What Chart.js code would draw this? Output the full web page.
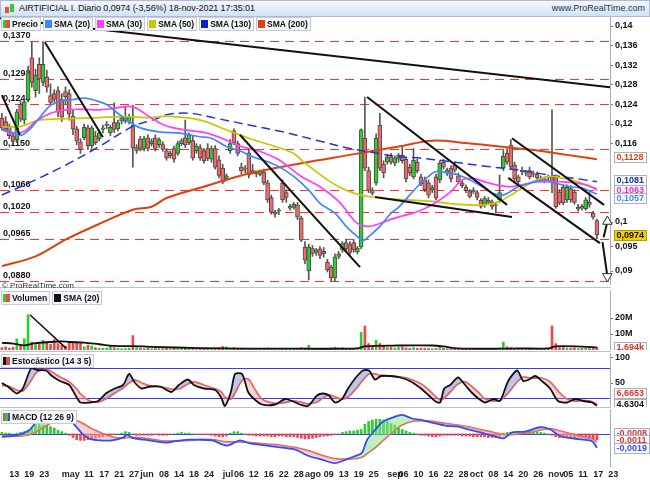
<!DOCTYPE html>
<html>
<head>
<meta charset="utf-8">
<title>AIRTIFICIAL I. Diario</title>
<script src="https://cdn.jsdelivr.net/npm/chart.js@4.4.1/dist/chart.umd.min.js"></script>
<style>
  html, body { margin: 0; padding: 0; background: #fff; }
  body { position: relative; width: 650px; height: 483px; overflow: hidden; font-family: "Liberation Sans", Arial, sans-serif; }
  canvas { position: absolute; left: 0; }
  .titlebar { position: absolute; left: 0; top: 0; width: 648px; height: 15px; border: 1px solid #a9bcd3; background: linear-gradient(#f4f8fd, #d2e1f2); font-size: 9px; color: #111; }
  .titlebar .t { position: absolute; left: 18px; top: 2px; white-space: nowrap; letter-spacing: -0.1px; }
  .titlebar .site { position: absolute; right: 4px; top: 2px; color: #24344f; }
  .titlebar .ico { position: absolute; left: 4px; top: 3px; width: 10px; height: 10px; }
  .ico b { position: absolute; width: 4px; }
  .legend { position: absolute; left: 1px; display: flex; gap: 2px; font-size: 8.5px; font-weight: bold; color: #111; white-space: nowrap; }
  .legend span { display: inline-flex; align-items: center; height: 12px; padding: 0 2px 0 1px; background: #f5f7fa; border: 1px solid #c3ccd8; }
  .legend i { display: inline-block; width: 7px; height: 8px; margin-right: 2px; }
  .sep { position: absolute; left: 0; width: 611px; height: 1px; background: #b9c2cf; }
  .copy { position: absolute; left: 2px; top: 281px; font-size: 8px; color: #333; }
</style>
</head>
<body>
<div class="titlebar">
  <div class="ico"><b style="left:0;top:3px;height:6px;background:#e84a4a"></b><b style="left:5px;top:0;height:8px;background:#2fcc2f"></b></div>
  <div class="t">AIRTIFICIAL I. Diario 0,0974 (-3,56%) 18-nov-2021 17:35:01</div>
  <div class="site">www.ProRealTime.com</div>
</div>

<canvas id="price" width="650" height="268" style="top:17px"></canvas>
<canvas id="vol" width="650" height="60" style="top:290px"></canvas>
<canvas id="sto" width="650" height="54" style="top:353px"></canvas>
<canvas id="macd" width="650" height="74" style="top:409px"></canvas>

<div class="sep" style="top:287px"></div>
<div class="sep" style="top:351px"></div>
<div class="sep" style="top:407px"></div>

<div class="legend" style="top:17px">
  <span><i style="background:linear-gradient(90deg,#2fcc2f 50%,#e84a4a 50%)"></i>Precio</span>
  <span><i style="background:#3f86ff"></i>SMA (20)</span>
  <span><i style="background:#ff3cff"></i>SMA (30)</span>
  <span><i style="background:#c8c800"></i>SMA (50)</span>
  <span><i style="background:#1020c8"></i>SMA (130)</span>
  <span><i style="background:#e0400f"></i>SMA (200)</span>
</div>
<div class="copy">© ProRealTime.com</div>
<div class="legend" style="top:291px">
  <span><i style="background:linear-gradient(90deg,#2fcc2f 50%,#e84a4a 50%)"></i>Volumen</span>
  <span><i style="background:#111"></i>SMA (20)</span>
</div>
<div class="legend" style="top:354px">
  <span><i style="background:linear-gradient(90deg,#111 50%,#e84a4a 50%)"></i>Estocástico (14 3 5)</span>
</div>
<div class="legend" style="top:410px">
  <span><i style="background:linear-gradient(90deg,#e84a4a 33%,#2fcc2f 33%,#2fcc2f 66%,#3050ff 66%)"></i>MACD (12 26 9)</span>
</div>

<script>
const FONT = '"Liberation Sans", Arial, sans-serif';

// bottom axis labels: [trading day index, text]; day 0 = 9-abr-2021
const dayTicks = [
  [2, '13'], [6, '19'], [10, '23'], [16, 'may'], [22, '11'], [26, '17'], [30, '21'], [34, '27'], [37, 'jun'],
  [42, '08'], [46, '14'], [50, '18'], [54, '24'], [59, 'jul'], [62, '06'], [66, '12'], [70, '16'], [74, '22'],
  [78, '28'], [81, 'ago'], [86, '09'], [90, '13'], [94, '19'], [98, '25'], [103, 'sep'], [106, '06'], [110, '10'],
  [114, '16'], [118, '22'], [122, '28'], [125, 'oct'], [130, '08'], [134, '14'], [138, '20'], [142, '26'],
  [146, 'nov'], [150, '05'], [154, '11'], [158, '17'], [162, '23']
];

// daily candles [open, high, low, close]
const ohlc = [
  [0.1212,0.1222,0.1188,0.1192],[0.1205,0.1215,0.1185,0.1190],[0.1196,0.1200,0.1170,0.1176],[0.1176,0.1182,0.1158,0.1165],[0.1168,0.1230,0.1162,0.1225],
  [0.1240,0.1248,0.1205,0.1210],[0.1208,0.1250,0.1200,0.1245],[0.1250,0.1318,0.1245,0.1305],[0.1335,0.1368,0.1275,0.1285],[0.1268,0.1312,0.1255,0.1300],
  [0.1322,0.1335,0.1262,0.1292],[0.1285,0.1368,0.1278,0.1322],[0.1296,0.1310,0.1265,0.1275],[0.1258,0.1282,0.1240,0.1244],[0.1262,0.1270,0.1245,0.1250],
  [0.1268,0.1276,0.1215,0.1224],[0.1250,0.1262,0.1205,0.1214],[0.1266,0.1276,0.1240,0.1256],[0.1262,0.1270,0.1208,0.1220],[0.1216,0.1230,0.1178,0.1190],
  [0.1190,0.1195,0.1158,0.1165],[0.1163,0.1170,0.1140,0.1148],[0.1172,0.1200,0.1168,0.1193],[0.1192,0.1198,0.1148,0.1156],[0.1156,0.1196,0.1150,0.1192],
  [0.1176,0.1185,0.1158,0.1162],[0.1170,0.1188,0.1165,0.1182],[0.1189,0.1198,0.1182,0.1192],[0.1197,0.1205,0.1190,0.1200],[0.1182,0.1198,0.1176,0.1193],
  [0.1203,0.1243,0.1183,0.1189],[0.1190,0.1208,0.1186,0.1203],[0.1206,0.1216,0.1200,0.1212],[0.1206,0.1235,0.1202,0.1213],[0.1205,0.1220,0.1200,0.1214],
  [0.1198,0.1238,0.1112,0.1151],[0.1146,0.1158,0.1140,0.1152],[0.1169,0.1175,0.1145,0.1150],[0.1150,0.1175,0.1145,0.1170],[0.1172,0.1178,0.1145,0.1150],
  [0.1160,0.1170,0.1155,0.1165],[0.1172,0.1178,0.1145,0.1150],[0.1158,0.1172,0.1152,0.1168],[0.1158,0.1164,0.1144,0.1148],[0.1145,0.1150,0.1126,0.1131],
  [0.1135,0.1145,0.1130,0.1140],[0.1150,0.1155,0.1122,0.1128],[0.1140,0.1165,0.1136,0.1160],[0.1160,0.1170,0.1156,0.1166],[0.1172,0.1208,0.1152,0.1158],
  [0.1162,0.1182,0.1158,0.1178],[0.1166,0.1175,0.1126,0.1131],[0.1145,0.1160,0.1140,0.1155],[0.1152,0.1158,0.1126,0.1131],[0.1145,0.1150,0.1120,0.1125],
  [0.1150,0.1160,0.1125,0.1130],[0.1128,0.1155,0.1122,0.1150],[0.1150,0.1156,0.1108,0.1112],[0.1127,0.1135,0.1090,0.1095],[0.1110,0.1118,0.1078,0.1082],
  [0.1088,0.1098,0.1084,0.1094],[0.1145,0.1168,0.1140,0.1160],[0.1186,0.1190,0.1158,0.1162],[0.1160,0.1165,0.1135,0.1140],[0.1112,0.1120,0.1098,0.1104],
  [0.1108,0.1115,0.1100,0.1110],[0.1141,0.1150,0.1090,0.1096],[0.1105,0.1118,0.1098,0.1102],[0.1098,0.1104,0.1092,0.1100],[0.1097,0.1106,0.1094,0.1103],
  [0.1102,0.1108,0.1076,0.1080],[0.1080,0.1085,0.1040,0.1045],[0.1050,0.1055,0.1016,0.1020],[0.1016,0.1024,0.1010,0.1020],[0.1022,0.1028,0.1015,0.1025],
  [0.1080,0.1086,0.1040,0.1045],[0.1060,0.1066,0.1040,0.1050],[0.1028,0.1036,0.1024,0.1032],[0.1030,0.1040,0.1026,0.1036],[0.1035,0.1040,0.1005,0.1010],
  [0.1008,0.1012,0.0960,0.0963],[0.0949,0.0960,0.0915,0.0922],[0.0900,0.0955,0.0882,0.0949],[0.0946,0.0952,0.0930,0.0936],[0.0938,0.0946,0.0932,0.0943],
  [0.0945,0.0950,0.0925,0.0932],[0.0940,0.0948,0.0928,0.0935],[0.0918,0.0924,0.0898,0.0902],[0.0908,0.0912,0.0880,0.0886],[0.0886,0.0935,0.0880,0.0929],
  [0.0930,0.0940,0.0925,0.0935],[0.0943,0.0960,0.0938,0.0956],[0.0958,0.0965,0.0940,0.0945],[0.0954,0.0960,0.0932,0.0938],[0.0958,0.0964,0.0938,0.0943],
  [0.0939,0.0950,0.0935,0.0947],[0.0949,0.1190,0.0945,0.1188],[0.1171,0.1255,0.1105,0.1110],[0.1105,0.1112,0.1060,0.1065],[0.1065,0.1070,0.1055,0.1059],
  [0.1080,0.1180,0.1075,0.1171],[0.1198,0.1222,0.1105,0.1110],[0.1118,0.1125,0.1090,0.1100],[0.1122,0.1138,0.1118,0.1133],[0.1133,0.1140,0.1118,0.1122],
  [0.1120,0.1135,0.1115,0.1131],[0.1128,0.1140,0.1122,0.1136],[0.1136,0.1153,0.1120,0.1125],[0.1128,0.1132,0.1082,0.1088],[0.1112,0.1118,0.1095,0.1100],
  [0.1092,0.1150,0.1088,0.1126],[0.1122,0.1128,0.1100,0.1105],[0.1092,0.1098,0.1074,0.1078],[0.1086,0.1092,0.1062,0.1066],[0.1080,0.1086,0.1049,0.1055],
  [0.1065,0.1075,0.1060,0.1070],[0.1092,0.1098,0.1045,0.1049],[0.1086,0.1125,0.1080,0.1120],[0.1122,0.1128,0.1108,0.1112],[0.1100,0.1110,0.1095,0.1106],
  [0.1110,0.1115,0.1082,0.1088],[0.1116,0.1122,0.1102,0.1106],[0.1094,0.1100,0.1078,0.1082],[0.1080,0.1085,0.1070,0.1074],[0.1071,0.1076,0.1060,0.1064],
  [0.1062,0.1066,0.1049,0.1052],[0.1065,0.1070,0.1058,0.1062],[0.1060,0.1064,0.1045,0.1050],[0.1044,0.1048,0.1028,0.1032],[0.1036,0.1052,0.1030,0.1048],
  [0.1044,0.1050,0.1036,0.1040],[0.1041,0.1045,0.1026,0.1032],[0.1035,0.1040,0.1020,0.1034],[0.1045,0.1096,0.1040,0.1060],[0.1110,0.1146,0.1105,0.1134],
  [0.1140,0.1150,0.1118,0.1122],[0.1157,0.1168,0.1108,0.1112],[0.1116,0.1122,0.1084,0.1088],[0.1092,0.1096,0.1078,0.1082],[0.1106,0.1112,0.1096,0.1102],
  [0.1100,0.1105,0.1094,0.1101],[0.1105,0.1112,0.1088,0.1092],[0.1098,0.1104,0.1092,0.1100],[0.1098,0.1102,0.1086,0.1090],[0.1090,0.1094,0.1084,0.1088],
  [0.1082,0.1092,0.1080,0.1088],[0.1092,0.1096,0.1084,0.1090],[0.1092,0.1229,0.1060,0.1082],[0.1092,0.1096,0.1028,0.1031],[0.1061,0.1066,0.1035,0.1039],
  [0.1071,0.1076,0.1035,0.1039],[0.1045,0.1076,0.1040,0.1071],[0.1068,0.1074,0.1040,0.1045],[0.1061,0.1066,0.1036,0.1040],[0.1026,0.1036,0.1022,0.1030],
  [0.1032,0.1036,0.1024,0.1028],[0.1027,0.1050,0.1024,0.1045],[0.1040,0.1060,0.1030,0.1036],[0.1018,0.1022,0.1006,0.1010],[0.1003,0.1006,0.0966,0.0974]
];

// moving averages: [day index, value]
const sma20 = [[0,0.1190],[3,0.1182],[5,0.1177],[7,0.1186],[10,0.1212],[13,0.1238],[16,0.1247],[19,0.1250],[22,0.1253],[25,0.1248],[28,0.1240],[31,0.1222],[34,0.1205],[37,0.1192],[42,0.1184],[48,0.1181],[53,0.1174],[56,0.1171],[60,0.1154],[64,0.1144],[67,0.1133],[71,0.1123],[74,0.1113],[78,0.1093],[82,0.1065],[85,0.1038],[89,0.1018],[92,0.0991],[95,0.0970],[96.5,0.0962],[98,0.0970],[101,0.0991],[104,0.1018],[106,0.1030],[111,0.1072],[114,0.1093],[116,0.1103],[120,0.1099],[122,0.1096],[125,0.1086],[129,0.1069],[131,0.1059],[134,0.1055],[138,0.1072],[141,0.1079],[145,0.1086],[148,0.1079],[152,0.1072],[155,0.1069],[159,0.1057]];
const sma30 = [[0,0.1188],[3,0.1181],[6,0.1185],[9,0.1205],[13,0.1222],[17,0.1229],[22,0.1230],[26,0.1229],[30,0.1232],[34,0.1236],[36,0.1232],[40,0.1212],[44,0.1196],[49,0.1188],[55,0.1181],[60,0.1167],[64,0.1154],[69,0.1144],[74,0.1127],[80,0.1093],[85,0.1072],[90,0.1042],[95,0.0997],[98,0.0991],[101,0.0997],[105,0.1008],[111,0.1021],[115,0.1035],[120,0.1062],[123,0.1086],[126,0.1089],[129,0.1082],[132,0.1076],[136,0.1072],[139,0.1076],[143,0.1082],[147,0.1082],[150,0.1082],[154,0.1079],[157,0.1074],[159,0.1065]];
const sma50 = [[0,0.1194],[5,0.1195],[10,0.1208],[17,0.1211],[26,0.1213],[32,0.1215],[40,0.1213],[44,0.1216],[53,0.1208],[60,0.1188],[66,0.1171],[73,0.1154],[78,0.1140],[81,0.1120],[87,0.1086],[90,0.1072],[94,0.1059],[98,0.1052],[102,0.1048],[106,0.1046],[115,0.1042],[122,0.1036],[129,0.1035],[133,0.1042],[136,0.1055],[139,0.1069],[143,0.1086],[147,0.1093],[150,0.1089],[154,0.1082],[157,0.1072],[159,0.1069]];
const sma130 = [[0,0.1055],[9,0.1086],[17,0.1116],[26,0.1154],[35,0.1195],[41,0.1210],[44,0.1219],[50,0.1222],[57,0.1212],[66,0.1198],[75,0.1184],[84,0.1167],[93,0.1150],[100,0.1141],[106,0.1133],[111,0.1131],[120,0.1123],[129,0.1114],[138,0.1106],[146,0.1096],[155,0.1087],[159,0.1082]];
const sma200 = [[0,0.0910],[9,0.0930],[17,0.0964],[26,0.0996],[35,0.1025],[40,0.1031],[44,0.1049],[53,0.1070],[66,0.1099],[80,0.1120],[93,0.1137],[106,0.1154],[115,0.1166],[124,0.1161],[133,0.1154],[142,0.1147],[151,0.1137],[159,0.1128]];

const levels = [0.1370, 0.1292, 0.1240, 0.1150, 0.1066, 0.1020, 0.0965, 0.0880];
const priceTicks = [0.14, 0.136, 0.132, 0.128, 0.124, 0.12, 0.116, 0.1, 0.095, 0.09];

// hand-drawn lines [day0, price0, day1, price1]
const trendLines = [
  [-0.5, 0.14159, 162.5, 0.12749],
  [0.0, 0.1259, 4.8, 0.1178],
  [11.5, 0.1367, 27.0, 0.1173],
  [63.6, 0.1178, 95.7, 0.0908],
  [97.6, 0.1255, 135.0, 0.1035],
  [99.7, 0.1051, 136.3, 0.1010],
  [136.3, 0.1171, 160.9, 0.1035],
  [135.3, 0.1090, 159.8, 0.0957]
];
const arrows = [[160.8, 0.0969, 161.8, 0.1001], [160.5, 0.0959, 161.8, 0.0889]];

// volume in millions
const volume = [
  1.5, 2.0, 1.2, 1.8, 7.0, 2.5, 7.0, 22.0, 5.0, 4.0,
  3.5, 6.0, 5.0, 3.5, 6.5, 4.0, 3.0, 2.5, 4.5, 5.0,
  4.5, 4.0, 2.0, 3.0, 2.5, 1.5, 1.2, 1.0, 1.2, 2.5,
  1.5, 1.0, 0.8, 1.0, 1.2, 9.0, 1.5, 1.2, 1.0, 1.3,
  0.8, 1.0, 0.9, 0.8, 1.0, 0.8, 1.0, 0.7, 0.9, 1.0,
  0.8, 1.2, 0.7, 0.9, 0.8, 0.7, 0.8, 1.0, 1.5, 2.2,
  2.0, 1.0, 1.3, 0.8, 0.7, 0.6, 0.8, 0.6, 0.7, 0.8,
  0.7, 1.2, 1.0, 0.6, 0.7, 0.8, 0.9, 0.7, 0.8, 1.0,
  1.5, 1.2, 3.0, 1.0, 0.8, 0.9, 0.7, 1.0, 1.3, 1.8,
  1.2, 1.5, 1.0, 0.9, 1.0, 0.8, 11.0, 15.0, 4.0, 2.0,
  6.0, 4.0, 2.5, 1.5, 1.8, 1.2, 1.5, 1.8, 1.3, 1.0,
  1.5, 1.0, 1.2, 1.0, 0.9, 0.8, 1.0, 2.5, 1.2, 0.9,
  0.8, 0.7, 0.9, 0.6, 0.8, 0.7, 0.6, 0.7, 0.9, 0.8,
  0.7, 0.6, 0.8, 1.2, 5.0, 2.0, 1.5, 1.0, 0.9, 0.8,
  0.7, 0.8, 0.6, 0.7, 0.8, 0.9, 0.7, 15.0, 4.0, 1.5,
  1.8, 1.2, 1.0, 1.3, 0.9, 1.0, 1.1, 0.9, 1.0, 1.694
];
const volSma20 = [[0,4.5],[3,4.0],[6,2.9],[9,4.3],[13,5.0],[16,5.4],[18,5.0],[22,4.6],[26,3.6],[30,2.6],[35,2.4],[40,2.0],[53,1.2],[66,0.9],[80,0.8],[95,1.0],[97,2.3],[106,2.8],[115,2.8],[118,2.2],[122,1.0],[133,0.8],[138,1.0],[146,1.0],[148,2.3],[155,2.1],[159,1.7]];
const volTrend = [[7.5, 22.0, 17.2, 1.0]];

// stochastic (14 3 5)
const stoIdx = [0,1.6,4,5.6,7.8,9.4,11.8,13.4,15.5,18,20,21,23.5,25.7,27.8,30.2,32.4,34,35.6,37.4,39.6,42.3,45.2,47.3,49.7,51.3,54,57,58.6,59.6,61.2,62.3,64.2,65.8,67.4,69.5,73,75.7,77.5,79.7,81.8,84.2,85.8,87.4,89,90.9,92.5,94.6,96.5,98.1,99.7,101.3,103.7,106.4,109,112,114.1,115.7,117.1,118.2,119.8,121.9,123.8,125.4,127.5,129.1,131.5,133.1,135.3,137.7,139.3,140.9,142.5,144.3,146.5,148.6,151,153.2,155.3,157.7,159];
const stoK = [50,43,29,39,79,76,75,64,54,46,21,11,11,14,29,39,46,68,50,39,43,43,32,46,57,46,39,36,21,4,32,68,68,32,18,7,7,18,14,7,4,25,29,25,11,18,39,61,75,75,57,64,64,61,54,39,25,14,11,39,46,61,46,32,18,11,18,14,54,75,54,57,64,54,39,14,11,18,14,11,4.6304];
const stoD = [45,44,36,34,55,72,77,72,62,52,38,28,14,12,18,30,40,50,56,50,44,42,38,38,48,52,46,38,32,22,18,30,55,58,40,18,9,11,14,12,8,12,20,26,22,18,22,38,56,68,68,65,64,62,58,48,36,24,16,20,32,48,52,44,30,18,14,15,30,52,62,60,60,60,52,34,18,14,15,13,6.6653];

// MACD (12 26 9)
const macdIdx = [0,2.7,4.6,7.3,9.4,11.8,13.9,17.4,19.5,21.7,23.6,26.2,29.4,32.4,33.4,35,38,40.7,43.6,46.3,49.7,53,56.2,60.2,63.6,66.3,70.9,75.1,78.6,81.8,85.3,89,92,94.1,96.2,97.6,99.7,101.9,104.8,106.9,109.6,112,115.2,118.7,121.9,125.4,128.6,132.1,134.2,136.3,139.8,143.8,146.5,149.2,152.1,155.3,157.7,159];
const macdLine = [-0.0004,-0.0003,-0.0001,0.0005,0.0017,0.0023,0.0026,0.0022,0.0012,-0.0001,-0.0007,-0.0009,-0.0009,-0.0005,-0.0001,-0.0006,-0.0008,-0.0010,-0.0012,-0.0010,-0.0008,-0.0008,-0.0009,-0.0016,-0.0009,-0.0013,-0.0016,-0.0019,-0.0022,-0.0030,-0.0035,-0.0040,-0.0035,-0.0031,-0.0026,-0.0008,0.0005,0.0017,0.0023,0.0026,0.0021,0.0019,0.0015,0.0011,0.0010,0.0005,0.0001,-0.0004,-0.0006,0.0002,0.0003,0.0009,0.0006,-0.0003,-0.0006,-0.0008,-0.0010,-0.0019];
const macdSignal = [-0.0002,-0.0003,-0.0003,-0.0001,0.0004,0.0011,0.0017,0.0021,0.0019,0.0014,0.0008,0.0002,-0.0004,-0.0006,-0.0005,-0.0005,-0.0006,-0.0008,-0.0010,-0.0010,-0.0009,-0.0008,-0.0008,-0.0011,-0.0011,-0.0012,-0.0014,-0.0016,-0.0019,-0.0023,-0.0029,-0.0034,-0.0035,-0.0034,-0.0032,-0.0027,-0.0019,-0.0009,0.0004,0.0012,0.0017,0.0018,0.0017,0.0014,0.0012,0.0009,0.0005,0.0001,-0.0001,-0.0001,0.0001,0.0005,0.0007,0.0004,0.0000,-0.0004,-0.0007,-0.0011];
const macdHist = [
  0.0002, 0.0001, 0.0001, 0.0000, 0.0001, 0.0002, 0.0003, 0.0005, 0.0009, 0.0012,
  0.0013, 0.0012, 0.0011, 0.0010, 0.0008, 0.0005, 0.0003, 0.0001, -0.0002, -0.0005,
  -0.0008, -0.0009, -0.0009, -0.0008, -0.0007, -0.0006, -0.0005, -0.0004, -0.0003, -0.0002,
  -0.0001, 0.0000, 0.0001, 0.0003, 0.0002, -0.0001, -0.0002, -0.0002, -0.0002, -0.0002,
  -0.0002, -0.0001, -0.0002, -0.0002, -0.0002, -0.0001, 0.0000, 0.0001, 0.0002, 0.0001,
  0.0001, 0.0000, -0.0001, -0.0001, -0.0001, -0.0001, -0.0002, -0.0003, -0.0004, -0.0004,
  -0.0003, 0.0001, 0.0003, 0.0003, 0.0001, -0.0001, -0.0002, -0.0002, -0.0003, -0.0003,
  -0.0003, -0.0003, -0.0004, -0.0004, -0.0003, -0.0003, -0.0004, -0.0004, -0.0004, -0.0005,
  -0.0006, -0.0007, -0.0007, -0.0006, -0.0005, -0.0004, -0.0003, -0.0003, -0.0002, -0.0001,
  0.0000, 0.0002, 0.0003, 0.0004, 0.0004, 0.0005, 0.0006, 0.0013, 0.0017, 0.0019,
  0.0020, 0.0020, 0.0019, 0.0017, 0.0014, 0.0012, 0.0009, 0.0006, 0.0004, 0.0002,
  0.0001, -0.0001, -0.0002, -0.0002, -0.0003, -0.0004, -0.0004, -0.0003, -0.0002, -0.0002,
  -0.0002, -0.0002, -0.0002, -0.0003, -0.0003, -0.0003, -0.0004, -0.0004, -0.0004, -0.0004,
  -0.0005, -0.0005, -0.0005, -0.0003, 0.0001, 0.0002, 0.0002, 0.0002, 0.0002, 0.0003,
  0.0003, 0.0003, 0.0003, 0.0003, 0.0002, 0.0001, 0.0000, -0.0002, -0.0004, -0.0005,
  -0.0005, -0.0005, -0.0005, -0.0005, -0.0005, -0.0005, -0.0006, -0.0006, -0.0007, -0.0008
];

// ---- helpers ----
const UP = '#2fcc2f', DOWN = '#ee6a6a', VDOWN = '#ee4848';
const isUp = ohlc.map(c => c[3] >= c[0]);
const pairs = arr => arr.map(([x, y]) => ({ x, y }));
const zip = (xs, ys) => xs.map((x, k) => ({ x, y: ys[k] }));
const comma = v => String(v).replace('.', ',');
const segment = (t, color, width) => ({
  type: 'line', data: [{ x: t[0], y: t[1] }, { x: t[2], y: t[3] }],
  borderColor: color, borderWidth: width, pointRadius: 0, tension: 0, order: 0
});
const line = (data, color, extra) => Object.assign({
  type: 'line', data, borderColor: color, borderWidth: 1.7, pointRadius: 0, tension: 0.35, order: 2
}, extra || {});

function xAxis(show) {
  return {
    type: 'linear', min: -0.5, max: 162.5, offset: false, display: show,
    afterBuildTicks: s => { s.ticks = dayTicks.map(t => ({ value: t[0] })); },
    afterFit: s => { s.height = show ? 17 : 0; s.paddingLeft = 0; s.paddingRight = 0; s.paddingTop = 0; s.paddingBottom = 0; },
    grid: { display: false, drawTicks: false }, border: { display: false },
    ticks: { autoSkip: false, maxRotation: 0, align: 'start', padding: 3, color: '#222',
      font: { family: FONT, size: 9, weight: 'bold' }, callback: (v, i) => dayTicks[i] ? dayTicks[i][1] : '' }
  };
}
function yAxis(min, max, ticks, fmt) {
  return {
    position: 'right', min, max,
    afterBuildTicks: s => { s.ticks = ticks.map(v => ({ value: v })); },
    afterFit: s => { s.width = 40; s.paddingTop = 0; s.paddingBottom = 0; },
    grid: { drawOnChartArea: false, drawTicks: true, tickLength: 3, color: '#777' },
    border: { display: true, color: '#a6afbb' },
    ticks: { display: ticks.length > 0, padding: 2, color: '#111', font: { family: FONT, size: 9, weight: 'bold' }, callback: fmt }
  };
}
const guides = lines => ({
  id: 'guides',
  beforeDatasetsDraw(chart) {
    const { ctx, chartArea: a, scales: { y } } = chart;
    ctx.save();
    lines.forEach(g => {
      const py = Math.round(y.getPixelForValue(g.v)) + 0.5;
      ctx.strokeStyle = g.color; ctx.lineWidth = 1; ctx.setLineDash(g.dash || []);
      ctx.beginPath(); ctx.moveTo(a.left, py); ctx.lineTo(a.right, py); ctx.stroke();
      if (g.label) {
        ctx.setLineDash([]); ctx.fillStyle = '#111'; ctx.font = 'bold 9px ' + FONT; ctx.textBaseline = 'bottom';
        ctx.fillText(g.label, a.left + 3, py - 1.5);
      }
    });
    ctx.restore();
  }
});
const tags = items => ({
  id: 'tags',
  afterDraw(chart) {
    const { ctx, chartArea: a, scales: { y } } = chart;
    ctx.save(); ctx.font = 'bold 9px ' + FONT; ctx.textBaseline = 'middle';
    items.forEach(t => {
      const py = Math.round(y.getPixelForValue(t.v) + (t.dy || 0));
      const w = Math.ceil(ctx.measureText(t.text).width) + 5, x = a.right + 4;
      ctx.fillStyle = t.bg || '#fff'; ctx.fillRect(x, py - 5, w, 11);
      ctx.strokeStyle = t.edge || '#a9b3bf'; ctx.lineWidth = 1; ctx.strokeRect(x + 0.5, py - 4.5, w - 1, 10);
      ctx.fillStyle = t.color; ctx.fillText(t.text, x + 2.5, py + 0.5);
    });
    ctx.restore();
  }
});
function panel(id, datasets, y, showX, plugins) {
  return new Chart(document.getElementById(id), {
    type: 'bar',
    data: { datasets },
    options: {
      responsive: false, animation: false, events: [],
      layout: { padding: 0, autoPadding: false },
      plugins: { legend: { display: false }, tooltip: { enabled: false } },
      scales: { x: xAxis(showX), y }
    },
    plugins
  });
}

// ---- price ----
const PMIN = 0.087143, PMAX = 0.141837;
panel('price', [
  ...trendLines.map(t => segment(t, '#111', 2)),
  ...arrows.map((t, k) => Object.assign(segment(t, '#111', 2), {
    clip: false, pointStyle: 'triangle', rotation: k ? 180 : 0,
    pointRadius: [0, 5.5], pointBackgroundColor: '#fff', pointBorderColor: '#333', pointBorderWidth: 1
  })),
  line(pairs(sma20), '#3f86ff'),
  line(pairs(sma30), '#ff3cff'),
  line(pairs(sma50), '#c8c800'),
  line(pairs(sma130), '#2233dd', { borderDash: [9, 5], borderWidth: 1.5 }),
  line(pairs(sma200), '#e0400f', { borderWidth: 2 }),
  { type: 'bar', data: ohlc.map((c, i) => ({ x: i, y: [c[0], c[3]] })), grouped: false, barThickness: 4,
    backgroundColor: isUp.map(u => u ? UP : DOWN), borderColor: '#4a4a4a', borderWidth: 1, borderSkipped: false, order: 9 },
  { type: 'bar', data: ohlc.map((c, i) => ({ x: i, y: [c[2], c[1]] })), grouped: false, barThickness: 1,
    backgroundColor: '#555', order: 10 }
], yAxis(PMIN, PMAX, priceTicks, comma), false, [
  guides(levels.map(v => ({ v, color: '#ff3030', dash: [9, 6], label: v.toFixed(4).replace('.', ',') }))),
  tags([
    { v: 0.1128, text: '0,1128', color: '#e0400f', dy: -2 },
    { v: 0.1081, text: '0,1081', color: '#1a2bb8', dy: -2 },
    { v: 0.1063, text: '0,1063', color: '#ee22ee', dy: -1 },
    { v: 0.1057, text: '0,1057', color: '#3f86ff', dy: 4 },
    { v: 0.0974, text: '0,0974', color: '#111', bg: '#f5d000', edge: '#b79a00' }
  ])
]);

// ---- volume ----
panel('vol', [
  ...volTrend.map(t => segment(t, '#111', 1.5)),
  line(pairs(volSma20), '#111', { borderWidth: 1.8, tension: 0.3 }),
  { type: 'bar', data: volume.map((v, i) => ({ x: i, y: v })), grouped: false, barThickness: 2,
    backgroundColor: isUp.map(u => u ? UP : VDOWN), order: 9 }
], yAxis(0, 37.5, [10, 20], v => v + 'M'), false, [
  tags([{ v: 1.694, text: '1,694k', color: '#e03030' }])
]);

// ---- stochastic ----
panel('sto', [
  line(zip(stoIdx, stoK), '#111', { borderWidth: 1.8, tension: 0.25, order: 1,
    fill: { target: 1, above: 'rgba(120,125,200,0.45)', below: 'rgba(240,150,150,0.4)' } }),
  line(zip(stoIdx, stoD), '#e86060', { borderWidth: 1.8, tension: 0.3, order: 2 })
], yAxis(2, 110, [100, 50], v => String(v)), false, [
  guides([{ v: 80, color: '#3a3af0' }, { v: 20, color: '#3a3af0' }]),
  tags([
    { v: 6.6653, text: '6,6653', color: '#e03030', dy: -12 },
    { v: 4.6304, text: '4,6304', color: '#111', dy: -2 }
  ])
]);

// ---- MACD ----
panel('macd', [
  line(zip(macdIdx, macdLine), '#2f4cff', { borderWidth: 1.8, tension: 0.3, order: 1,
    fill: { target: 1, above: 'rgba(140,225,140,0.55)', below: 'rgba(240,165,165,0.5)' } }),
  line(zip(macdIdx, macdSignal), '#ee6050', { borderWidth: 1.8, tension: 0.3, order: 2 }),
  { type: 'bar', data: macdHist.map((v, i) => ({ x: i, y: v })), grouped: false, barThickness: 2,
    backgroundColor: macdHist.map(v => v >= 0 ? UP : VDOWN), order: 9 }
], yAxis(-0.0044, 0.0034, [], comma), true, [
  guides([{ v: 0, color: '#3a3af0' }]),
  tags([
    { v: -0.0008, text: '-0,0008', color: '#e03030', dy: -7 },
    { v: -0.0011, text: '-0,0011', color: '#e03030', dy: -2 },
    { v: -0.0019, text: '-0,0019', color: '#2f4cff', dy: 0 }
  ])
]);
</script>
</body>
</html>
